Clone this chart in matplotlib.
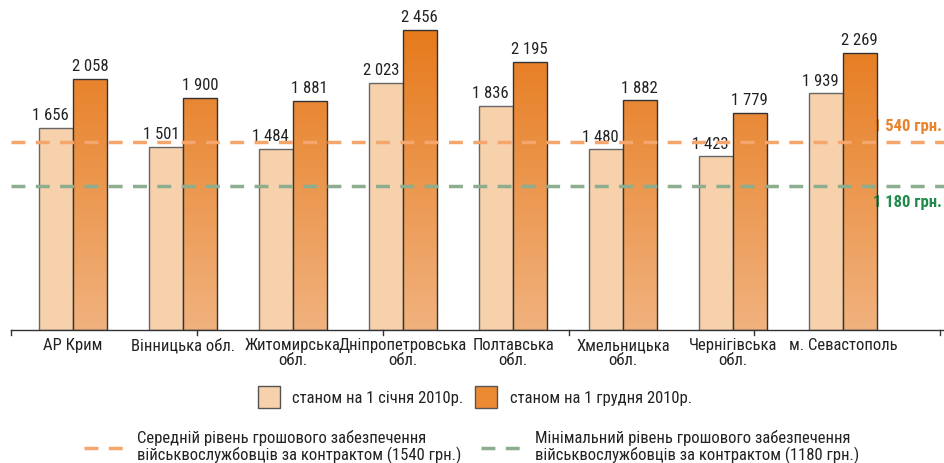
import numpy as np
import matplotlib
matplotlib.use('Agg')
import matplotlib.pyplot as plt
from matplotlib.colors import LinearSegmentedColormap

plt.rcParams['font.family'] = ['Roboto Condensed', 'DejaVu Sans']

# дані
regions = ['АР Крим', 'Вінницька обл.', 'Житомирська\nобл.', 'Дніпропетровська\nобл.',
           'Полтавська\nобл.', 'Хмельницька\nобл.', 'Чернігівська\nобл.', 'м. Севастополь']
jan_2010 = [1656, 1501, 1484, 2023, 1836, 1480, 1423, 1939]
dec_2010 = [2058, 1900, 1881, 2456, 2195, 1882, 1779, 2269]
avg_level = 1540
min_level = 1180

light_col = '#F7D0AC'
dark_top = '#E67A1C'
dark_bot = '#F1B27E'
orange_line = '#F4A66C'
green_line = '#8DAE8E'
txt_col = '#222222'
fs = 12


def fmt(v):
    return f'{v:,}'.replace(',', ' ')


fig = plt.figure(figsize=(9.44, 4.63), dpi=100)
ax = fig.add_axes([11 / 944, 1 - 330 / 463, 933 / 944, 330 / 463])

x = np.arange(len(regions))
w = 0.305

bars1 = ax.bar(x - w / 2, jan_2010, w, color=light_col, edgecolor='#666666', linewidth=1, zorder=2)
bars2 = ax.bar(x + w / 2, dec_2010, w, color='none', edgecolor='#333333', linewidth=1, zorder=4)

# градієнт у темних стовпцях
cmap = LinearSegmentedColormap.from_list('grad', [dark_bot, dark_top])
grad = np.linspace(0, 1, 256).reshape(-1, 1)
for b in bars2:
    bx, bw = b.get_x(), b.get_width()
    im = ax.imshow(grad, cmap=cmap, origin='lower', aspect='auto',
                   extent=[bx, bx + bw, 0, max(dec_2010)], zorder=3)
    im.set_clip_path(b)

for i in range(len(regions)):
    ax.text(x[i] - w / 2 - 0.05, jan_2010[i] + 40, fmt(jan_2010[i]), ha='center', va='bottom',
            fontsize=fs, color=txt_col)
    ax.text(x[i] + w / 2, dec_2010[i] + 40, fmt(dec_2010[i]), ha='center', va='bottom',
            fontsize=fs, color=txt_col)

ax.axhline(avg_level, color=orange_line, lw=2.5, dashes=(4, 3), zorder=5)
ax.axhline(min_level, color=green_line, lw=2.5, dashes=(4, 3), zorder=5)

ax.text(0.998, avg_level + 70, '1 540 грн.', transform=ax.get_yaxis_transform(),
        ha='right', va='bottom', fontsize=fs, fontweight='bold', color='#E8832C')
ax.text(0.998, min_level - 70, '1 180 грн.', transform=ax.get_yaxis_transform(),
        ha='right', va='top', fontsize=fs, fontweight='bold', color='#1F8A4A')

ax.set_xlim(-0.564, 7.918)
ax.set_ylim(0, 2705)
ax.set_xticks(x)
ax.set_xticklabels(regions, fontsize=fs, color=txt_col, linespacing=1.0)
ax.tick_params(axis='x', length=0, pad=6)
ax.set_yticks([])
for s in ['top', 'right', 'left']:
    ax.spines[s].set_visible(False)
ax.spines['bottom'].set_color('#333333')
ax.spines['bottom'].set_linewidth(1)
ax.spines['bottom'].set_zorder(6)

# дрібні позначки на осі
for f in np.linspace(0, 0.996, 6):
    ax.plot([f, f], [0, -0.015], transform=ax.transAxes, color='#333333', lw=1, clip_on=False)


# легенда
def fx(px):
    return px / 944


def fy(py):
    return 1 - py / 463


fig.patches.append(plt.Rectangle((fx(258), fy(408)), 22 / 944, 22 / 463, transform=fig.transFigure,
                                 facecolor=light_col, edgecolor='#555555', lw=1))
fig.text(fx(292), fy(398), 'станом на 1 січня 2010р.', fontsize=fs, va='center', color=txt_col)
fig.patches.append(plt.Rectangle((fx(475), fy(408)), 22 / 944, 22 / 463, transform=fig.transFigure,
                                 facecolor='#EC8A34', edgecolor='#555555', lw=1))
fig.text(fx(510), fy(398), 'станом на 1 грудня 2010р.', fontsize=fs, va='center', color=txt_col)

fig.lines.append(plt.Line2D([fx(84), fx(128)], [fy(448), fy(448)], transform=fig.transFigure,
                            color=orange_line, lw=2.5, dashes=(4, 3)))
fig.text(fx(137), fy(447), 'Середній рівень грошового забезпечення\nвійськвослужбовців за контрактом (1540 грн.)',
         fontsize=fs, va='center', color=txt_col, linespacing=1.0)
fig.lines.append(plt.Line2D([fx(481), fx(526)], [fy(448), fy(448)], transform=fig.transFigure,
                            color=green_line, lw=2.5, dashes=(4, 3)))
fig.text(fx(535), fy(447), 'Мінімальний рівень грошового забезпечення\nвійськвослужбовців за контрактом (1180 грн.)',
         fontsize=fs, va='center', color=txt_col, linespacing=1.0)

fig.savefig('out.png', dpi=100)
